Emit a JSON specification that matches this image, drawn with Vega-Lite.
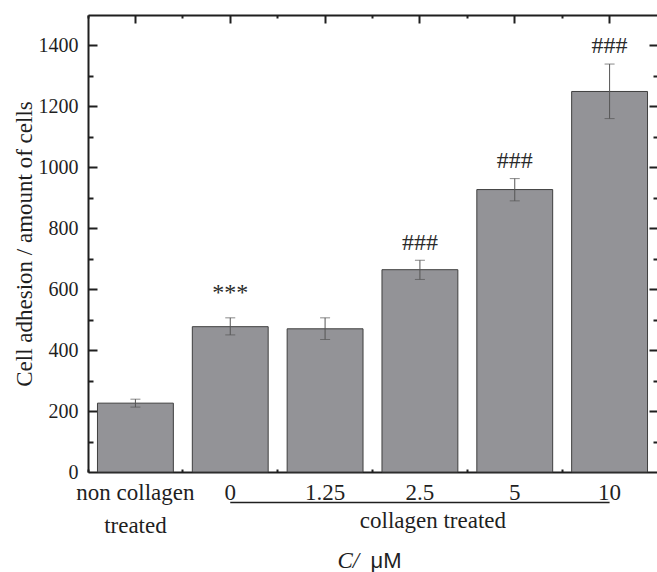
{
  "$schema": "https://vega.github.io/schema/vega-lite/v6.json",
  "width": 569,
  "height": 457,
  "autosize": {"type": "none"},
  "padding": {"left": 88, "top": 15, "right": 0, "bottom": 100},
  "background": "white",
  "config": {
    "view": {"stroke": null},
    "font": "Liberation Serif",
    "axis": {
      "grid": false,
      "domainColor": "#1f1f1f",
      "tickColor": "#1f1f1f",
      "labelColor": "#1f1f1f",
      "titleColor": "#1f1f1f",
      "labelFont": "Liberation Serif",
      "titleFont": "Liberation Serif",
      "titleFontWeight": "normal",
      "domainWidth": 2,
      "tickWidth": 2
    }
  },
  "datasets": {
    "bars": [
      {"group": "non collagen", "value": 226, "lower": 213, "upper": 239},
      {"group": "0", "value": 477, "lower": 450, "upper": 506},
      {"group": "1.25", "value": 470, "lower": 435, "upper": 506},
      {"group": "2.5", "value": 664, "lower": 632, "upper": 695},
      {"group": "5", "value": 927, "lower": 890, "upper": 963},
      {"group": "10", "value": 1249, "lower": 1160, "upper": 1339}
    ],
    "notes": [
      {"group": "0", "pos": 563, "label": "***"},
      {"group": "2.5", "pos": 730, "label": "###"},
      {"group": "5", "pos": 998, "label": "###"},
      {"group": "10", "pos": 1375, "label": "###"}
    ],
    "bracket": [
      {"from": "0", "to": "10", "mid": "2.5", "label": "collagen treated"}
    ]
  },
  "layer": [
    {
      "data": {"name": "bars"},
      "mark": {"type": "bar", "fill": "#939397", "stroke": "#3f3f3f", "strokeWidth": 1},
      "encoding": {
        "x": {
          "field": "group", "type": "nominal",
          "scale": {"domain": ["non collagen", "0", "1.25", "2.5", "5", "10"], "paddingInner": 0.2, "paddingOuter": 0.1},
          "axis": {
            "orient": "bottom", "ticks": false, "domain": true, "labelAngle": 0,
            "labelFontSize": 23, "labelPadding": 9, "labelLineHeight": 33, "labelOverlap": false,
            "labelBaseline": "top",
            "labelExpr": "datum.value == 'non collagen' ? ['non collagen', 'treated'] : datum.label",
            "title": "C/", "titleFontStyle": "italic", "titleFontSize": 23,
            "titleX": 249, "titleY": 95, "titleAlign": "left", "titleBaseline": "alphabetic"
          }
        },
        "y": {
          "field": "value", "type": "quantitative",
          "scale": {"domain": [0, 1500], "nice": false},
          "axis": {
            "orient": "left", "ticks": false, "domain": true, "format": "d",
            "values": [0, 200, 400, 600, 800, 1000, 1200, 1400],
            "labelFontSize": 20, "labelPadding": 10,
            "title": "Cell adhesion / amount of cells", "titleFontSize": 23, "titlePadding": 2
          }
        }
      }
    },
    {
      "data": {"name": "bars"},
      "mark": {"type": "rule", "color": "#555555", "strokeWidth": 1},
      "encoding": {
        "x": {
          "field": "group", "type": "nominal",
          "scale": {"domain": ["non collagen", "0", "1.25", "2.5", "5", "10"], "paddingInner": 0.2, "paddingOuter": 0.1},
          "axis": {"orient": "top", "domain": true, "ticks": true, "tickSize": -8, "labels": false, "title": null}
        },
        "y": {
          "field": "lower", "type": "quantitative",
          "scale": {"domain": [0, 1500], "nice": false},
          "axis": {"orient": "right", "domain": false, "ticks": true, "tickSize": -8, "labels": false, "title": null,
                   "values": [200, 400, 600, 800, 1000, 1200, 1400]}
        },
        "y2": {"field": "upper"}
      }
    },
    {
      "data": {"name": "bars"},
      "transform": [{"fold": ["lower", "upper"], "as": ["end", "bound"]}],
      "mark": {"type": "tick", "orient": "horizontal", "size": 10, "thickness": 1, "color": "#555555"},
      "encoding": {
        "x": {
          "field": "group", "type": "nominal",
          "scale": {"domain": ["non collagen", "0", "1.25", "2.5", "5", "10"], "paddingInner": 0.2, "paddingOuter": 0.1},
          "axis": {"orient": "bottom", "domain": false, "ticks": true, "tickSize": -8, "labels": false,
                   "title": "μM", "titleFont": "Liberation Sans", "titleFontSize": 22,
                   "titleX": 282, "titleY": 95, "titleAlign": "left", "titleBaseline": "alphabetic"}
        },
        "y": {
          "field": "bound", "type": "quantitative",
          "scale": {"domain": [0, 1500], "nice": false},
          "axis": {"orient": "left", "domain": false, "ticks": true, "tickSize": -9, "labels": false, "title": null,
                   "values": [200, 400, 600, 800, 1000, 1200, 1400]}
        }
      }
    },
    {
      "data": {"name": "notes"},
      "mark": {"type": "text", "fontSize": 24, "font": "Liberation Serif", "color": "#2a2a2a", "baseline": "alphabetic", "align": "center"},
      "encoding": {
        "x": {
          "field": "group", "type": "nominal",
          "scale": {"domain": ["non collagen", "0", "1.25", "2.5", "5", "10"], "paddingInner": 0.2, "paddingOuter": 0.1},
          "axis": {"orient": "bottom", "domain": false, "ticks": true, "tickSize": -3, "bandPosition": -0.125, "labels": false, "title": null}
        },
        "y": {
          "field": "pos", "type": "quantitative",
          "scale": {"domain": [0, 1500], "nice": false},
          "axis": {"orient": "left", "domain": false, "ticks": true, "tickSize": -5, "labels": false, "title": null,
                   "values": [100, 300, 500, 700, 900, 1100, 1300]}
        },
        "text": {"field": "label"}
      }
    },
    {
      "data": {"name": "bracket"},
      "mark": {"type": "rule", "color": "#1f1f1f", "strokeWidth": 1.5},
      "encoding": {
        "x": {
          "field": "from", "type": "nominal",
          "scale": {"domain": ["non collagen", "0", "1.25", "2.5", "5", "10"], "paddingInner": 0.2, "paddingOuter": 0.1},
          "axis": {"orient": "top", "domain": false, "ticks": true, "tickSize": -3, "bandPosition": -0.125, "labels": false, "title": null}
        },
        "x2": {"field": "to"},
        "y": {
          "datum": -100, "type": "quantitative",
          "scale": {"domain": [0, 1500], "nice": false},
          "axis": {"orient": "right", "domain": false, "ticks": true, "tickSize": -4, "labels": false, "title": null,
                   "values": [100, 300, 500, 700, 900, 1100, 1300]}
        }
      }
    },
    {
      "data": {"name": "bracket"},
      "mark": {"type": "text", "fontSize": 23, "font": "Liberation Serif", "color": "#1f1f1f", "baseline": "alphabetic", "align": "center", "dx": 13},
      "encoding": {
        "x": {
          "field": "mid", "type": "nominal",
          "scale": {"domain": ["non collagen", "0", "1.25", "2.5", "5", "10"], "paddingInner": 0.2, "paddingOuter": 0.1},
          "axis": null
        },
        "y": {
          "datum": -184, "type": "quantitative",
          "scale": {"domain": [0, 1500], "nice": false},
          "axis": null
        },
        "text": {"field": "label"}
      }
    }
  ],
  "resolve": {"axis": {"x": "independent", "y": "independent"}}
}
